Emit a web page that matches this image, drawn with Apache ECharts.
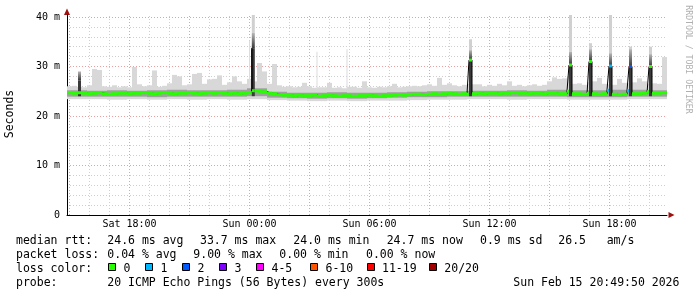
<!DOCTYPE html>
<html><head><meta charset="utf-8">
<script src="https://cdn.jsdelivr.net/npm/echarts@6/dist/echarts.min.js"></script>
<style>html,body{margin:0;padding:0;background:#fff}#c{width:697px;height:297px}</style>
</head><body><div id="c"></div>
<script>
// ---- time frame (hours since Sat 00:00) ----
const startHour = 14.875, endHour = 44.875, binHours = 0.25;

// ---- median RTT (ms), one value per 15 minutes ----
const medianRtt = [
  24.7,24.6,24.7,24.6,24.5,24.6,24.7,
  24.5,24.4,24.5,24.6,24.6,24.5,24.6,
  24.6,24.7,24.6,24.5,24.6,24.7,24.6,
  24.5,24.6,24.6,24.7,24.6,24.5,24.6,
  24.7,24.6,24.7,24.6,24.5,24.6,24.5,24.6,
  24.7,
  25.1,25.0,24.9,24.6,24.5,24.3,24.2,
  24.2,24.1,24.2,24.1,24.1,24.2,24.0,24.1,24.2,24.1,24.0,24.1,
  24.1,24.0,24.1,24.1,24.2,24.1,24.0,24.1,24.1,24.2,24.3,24.2,
  24.3,24.4,24.4,24.3,24.4,24.5,24.4,24.5,24.6,24.5,24.4,24.5,
  24.4,
  24.5,24.6,24.5,24.6,24.6,24.5,24.6,24.6,24.7,24.6,24.6,24.5,24.6,24.6,24.5,24.6,
  24.6,24.5,24.5,25.0,
  24.5,24.5,24.4,24.6,
  24.5,24.4,24.5,25.2,
  24.4,24.3,24.4,25.1,
  24.5,24.5,24.6,24.9,
  24.6,24.6,24.7
];
// bins that had packet loss (index into medianRtt) and their loss class
const lossBins = [108, 112];
const lossBinClass = [1, 1];

// ---- smoke: highest ping per 15 minutes (ms) ----
const smokeMax = [
  26.0,26.1,25.9,25.8,26.2,29.5,29.3,26.0,25.9,26.2,
  25.8,26.0,25.8,29.9,26.4,26.0,26.2,29.2,25.9,26.1,
  26.6,28.3,28.0,26.2,26.4,28.5,28.7,26.5,27.4,27.5,
  28.2,26.3,26.8,28.0,27.0,26.5,27.5,27.0,30.7,29.0,
  26.5,30.5,26.2,25.9,26.0,25.8,25.9,26.7,26.0,25.7,
  25.8,25.8,26.7,25.7,25.8,25.6,25.9,25.9,25.7,27.0,
  25.8,25.7,25.9,25.8,26.0,26.5,25.8,25.9,26.0,26.1,
  26.0,26.2,26.4,26.1,27.7,26.3,26.6,26.2,26.0,26.3,
  26.5,26.4,26.4,26.0,26.3,26.1,26.5,26.2,27.0,26.1,
  26.3,26.0,26.2,26.4,26.1,26.3,27.0,27.8,27.5,27.6,
  28.0,26.5,26.6,26.3,26.8,27.0,27.7,26.5,26.4,26.3,
  27.5,26.7,26.6,26.8,27.6,27.0,26.5,26.6,26.5,31.9
];
// ---- smoke: hourly lowest ping and dense core (ms) ----
const smokeMinHourly = [23.4,23.4,23.3,23.4,23.3,23.4,23.3,23.4,23.3,23.4,23.2,23.1,23.0,23.1,23.0,23.1,23.1,23.2,23.3,23.3,23.4,23.4,23.3,23.4,23.4,23.3,23.3,23.3,23.4,23.4];
const smokeCoreLo  = [23.9,23.9,23.9,23.9,23.8,23.9,23.9,23.9,23.9,24.0,23.7,23.6,23.5,23.6,23.5,23.6,23.7,23.8,23.8,23.9,23.9,23.9,23.9,23.9,23.9,23.8,23.8,23.8,23.9,23.9];
const smokeCoreHi  = [25.2,25.1,25.2,25.1,25.2,25.3,25.2,25.2,25.3,25.6,24.9,24.7,24.7,24.8,24.7,24.7,24.8,24.9,25.0,25.0,25.1,25.1,25.2,25.1,25.3,25.2,25.2,25.3,25.3,25.2];

// ---- single outlier pings ----
const outlierTimes = [24.0, 27.375, 28.875];
const outlierTops  = [35.3, 33.0, 33.5];

// ---- latency spikes ----
const spikeTimes  = [15.5, 24.19, 35.05, 40.05, 41.05, 42.05, 43.05, 44.05];
const spikeCore   = [27.2, 33.7, 31.3, 30.3, 31.0, 30.1, 30.0, 30.0];
const spikeFade   = [29.0, 36.8, 33.3, 33.0, 33.5, 32.7, 33.5, 32.5];
const spikeMax    = [29.0, 40.4, 35.5, 40.4, 34.7, 40.4, 34.0, 34.0];
const spikeMedian = [null, 33.7, 31.3, 30.3, 31.0, 30.1, 30.0, 30.0];
const spikeLoss   = [0, 0, 0, 0, 0, 1, 2, 0];

// ---- axis ticks ----
const xTickHours  = [18, 24, 30, 36, 42];
const xTickLabels = ['Sat 18:00','Sun 00:00','Sun 06:00','Sun 12:00','Sun 18:00'];
const yTickValues = [0, 10, 20, 30, 40];
const yTickLabels = ['0', '10 m', '20 m', '30 m', '40 m'];

// ---- legend ----
const lossColors = ['#26ff00','#00b8ff','#0059ff','#7e00ff','#ff00ff','#ff5500','#ff0000','#a10000'];
const lossLabels = ['0','1','2','3','4-5','6-10','11-19','20/20'];
const row1 = [['median rtt:',16],['24.6 ms avg',107.3],['33.7 ms max',200],['24.0 ms min',293.3],['24.7 ms now',386.7],['0.9 ms sd',480],['26.5',558.3],['am/s',606.7]];
const row2 = [['packet loss:',16],['0.04 % avg',107.3],['9.00 % max',193.3],['0.00 % min',279.3],['0.00 % now',366]];
const row4 = [['probe:',16],['20 ICMP Echo Pings (56 Bytes) every 300s',107.3],['Sun Feb 15 20:49:50 2026',513.3]];

// ---------- build series data ----------
const spikeHalf = 0.075;
function binLoss(i){ const k = lossBins.indexOf(i); return k < 0 ? 0 : lossBinClass[k]; }

const lightSmoke = medianRtt.map((_, i) => [startHour + i*binHours, startHour + (i+1)*binHours, smokeMinHourly[Math.floor(i/4)], smokeMax[i]]);
const coreSmoke = smokeCoreLo.map((lo, k) => [startHour + k, startHour + k + 1, lo, smokeCoreHi[k]]);
const outliers = outlierTimes.map((t, k) => [t - 0.025, t + 0.025, 25.5, outlierTops[k]]);
const spikeBoxes = [];
spikeTimes.forEach((t, k) => {
  spikeBoxes.push([t - spikeHalf, t + spikeHalf, spikeFade[k], spikeMax[k], 2]);
  spikeBoxes.push([t - spikeHalf, t + spikeHalf, spikeCore[k], spikeFade[k], 1]);
  spikeBoxes.push([t - spikeHalf, t + spikeHalf, 24.0, spikeCore[k], 0]);
});

const pts = medianRtt.map((v, i) => ({t: startHour + i*binHours, v: v, loss: binLoss(i)}));
spikeTimes.forEach((t, k) => {
  if (spikeMedian[k] == null) return;
  const b = Math.floor((t + spikeHalf - startHour) / binHours);
  pts.push({t: t - spikeHalf, v: spikeMedian[k], loss: spikeLoss[k]});
  pts.push({t: t + spikeHalf, v: medianRtt[b], loss: binLoss(b)});
});
pts.sort((a, b) => a.t - b.t);
const medianLine = pts.map(p => [p.t, p.v]);
medianLine.push([endHour, pts[pts.length-1].v]);
const medianSegs = pts.map((p, k) => [p.t, k + 1 < pts.length ? pts[k+1].t : endHour, p.v, p.loss]);

// ---------- grid lines ----------
const minorC = '#cfcfcf', majorC = '#e8a0a0';
const gridLines = [];
for (let h = Math.ceil(startHour); h < endHour; h++) {
  gridLines.push({xAxis: h, lineStyle: {color: h % 3 === 0 ? majorC : minorC, type: [1, 2], width: 1}});
}
for (let v = 2; v <= 40; v += 2) {
  gridLines.push({yAxis: v, lineStyle: {color: v % 10 === 0 ? majorC : minorC, type: [1, 2], width: 1}});
}

function box(fill) {
  return function (params, api) {
    const a = api.coord([api.value(0), api.value(3)]);
    const b = api.coord([api.value(1), api.value(2)]);
    return {type: 'rect', shape: {x: a[0], y: a[1], width: b[0] - a[0], height: b[1] - a[1]}, style: {fill: fill(api)}};
  };
}
const MONO = '"DejaVu Sans Mono", monospace';
const grad = new echarts.graphic.LinearGradient(0, 1, 0, 0, [{offset: 0, color: '#383838'}, {offset: 1, color: '#b8b8b8'}]);

const graphics = [];
function txt(s, x, y) {
  graphics.push({type: 'text', x: x, y: y, silent: true,
    style: {text: s, font: '11.5px ' + MONO, fill: '#000', align: 'left', textAlign: 'left', verticalAlign: 'middle', textVerticalAlign: 'middle'}});
}
row1.forEach(r => txt(r[0], r[1], 241.5));
row2.forEach(r => txt(r[0], r[1], 255.5));
txt('loss color:', 16, 269.5);
const swatchX = [108.5, 145.5, 182.5, 219.5, 256.5, 310.5, 367.5, 429.5];
const labelX = [123.5, 160.5, 197.5, 234.5, 271.5, 325.5, 382, 444.3];
lossLabels.forEach((l, k) => {
  graphics.push({type: 'rect', silent: true, shape: {x: swatchX[k], y: 263.5, width: 7, height: 7}, style: {fill: lossColors[k], stroke: '#000', lineWidth: 1}});
  txt(l, labelX[k], 269.5);
});
row4.forEach(r => txt(r[0], r[1], 283.5));
graphics.push({type: 'text', x: 10.5, y: 114, rotation: Math.PI/2, silent: true,
  style: {text: 'Seconds', font: '11.5px ' + MONO, fill: '#000', align: 'center', textAlign: 'center', verticalAlign: 'middle', textVerticalAlign: 'middle'}});
graphics.push({type: 'text', x: 688.5, y: 59.5, rotation: -Math.PI/2, silent: true,
  style: {text: 'RRDTOOL / TOBI OETIKER', font: '8.2px ' + MONO, fill: '#b0b0b0', align: 'center', textAlign: 'center', verticalAlign: 'middle', textVerticalAlign: 'middle'}});
// axis arrows
graphics.push({type: 'polygon', silent: true, shape: {points: [[668.5, 212], [668.5, 218], [674.5, 215]]}, style: {fill: '#a01010'}});
graphics.push({type: 'polygon', silent: true, shape: {points: [[64, 15], [70, 15], [67, 8.5]]}, style: {fill: '#a01010'}});

const chart = echarts.init(document.getElementById('c'), null, {renderer: 'canvas', width: 697, height: 297});
chart.setOption({
  animation: false,
  backgroundColor: '#fff',
  grid: {left: 67, top: 15, width: 600, height: 200, containLabel: false, outerBoundsMode: 'none'},
  xAxis: {
    type: 'value', min: startHour, max: endHour,
    splitLine: {show: false}, axisTick: {show: false},
    axisLine: {show: true, onZero: false, lineStyle: {color: '#000', width: 1}},
    axisLabel: {customValues: xTickHours, fontFamily: MONO, fontSize: 10, color: '#000', margin: 4,
      formatter: v => xTickLabels[xTickHours.indexOf(Math.round(v))] || ''}
  },
  yAxis: {
    type: 'value', min: 0, max: 40.4,
    splitLine: {show: false}, axisTick: {show: false},
    axisLine: {show: true, onZero: false, lineStyle: {color: '#000', width: 1}},
    axisLabel: {customValues: yTickValues, fontFamily: MONO, fontSize: 10, color: '#000', margin: 7,
      formatter: v => yTickLabels[yTickValues.indexOf(Math.round(v))] || ''}
  },
  graphic: {elements: graphics},
  series: [
    {type: 'line', name: 'grid', z: 0, data: [], silent: true, symbol: 'none',
      markLine: {z: 0, silent: true, symbol: ['none', 'none'], label: {show: false}, animation: false, emphasis: {disabled: true}, data: gridLines}},
    {type: 'custom', name: 'smoke', z: 1, clip: true, silent: true, encode: {x: [0, 1], y: [2, 3]},
      data: lightSmoke, renderItem: box(() => '#d8d8d8')},
    {type: 'custom', name: 'outliers', z: 1, clip: true, silent: true, encode: {x: [0, 1], y: [2, 3]},
      data: outliers, renderItem: box(() => '#dcdcdc')},
    {type: 'custom', name: 'core', z: 1, clip: true, silent: true, encode: {x: [0, 1], y: [2, 3]},
      data: coreSmoke, renderItem: box(() => '#a0a0a0')},
    {type: 'custom', name: 'spikes', z: 2, clip: true, silent: true, encode: {x: [0, 1], y: [2, 3]},
      data: spikeBoxes, renderItem: box(api => { const k = api.value(4); return k === 0 ? '#3a3a3a' : (k === 1 ? grad : '#d0d0d0'); })},
    {type: 'line', name: 'median', z: 3, step: 'end', data: medianLine, showSymbol: false, symbol: 'none', silent: true,
      lineStyle: {color: '#000', width: 1}},
    {type: 'custom', name: 'loss', z: 4, clip: true, silent: true, encode: {x: [0, 1], y: [2, 2]},
      data: medianSegs,
      renderItem: function (params, api) {
        const a = api.coord([api.value(0), api.value(2)]);
        const b = api.coord([api.value(1), api.value(2)]);
        return {type: 'rect', shape: {x: a[0], y: a[1] - 1.5, width: b[0] - a[0], height: 3}, style: {fill: lossColors[api.value(3)]}};
      }}
  ]
});
</script></body></html>
